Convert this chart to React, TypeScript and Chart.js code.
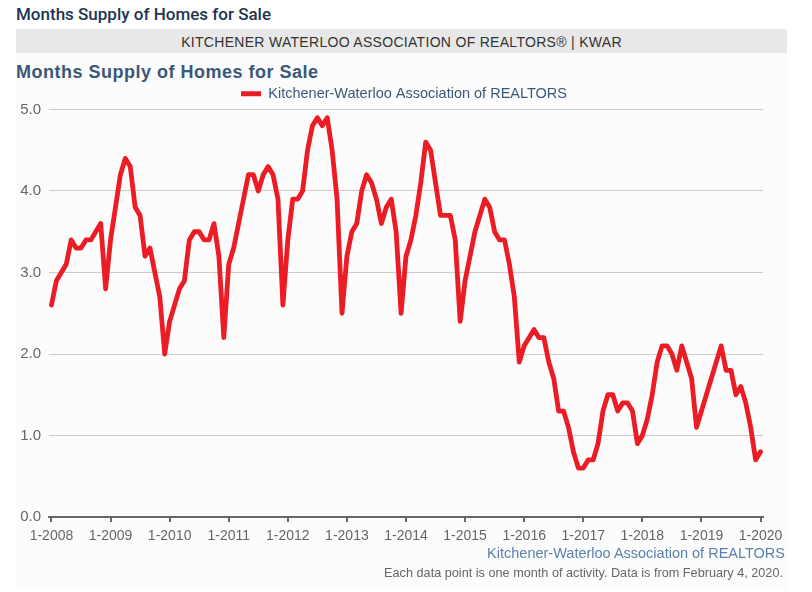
import React, { useEffect, useRef } from "react";
import { Chart, registerables } from "chart.js";

Chart.register(...registerables);

// Months supply of homes for sale, one value per month (Jan..Dec)
const supply2008 = [2.6, 2.9, 3.0, 3.1, 3.4, 3.3, 3.3, 3.4, 3.4, 3.5, 3.6, 2.8];
const supply2009 = [3.4, 3.8, 4.2, 4.4, 4.3, 3.8, 3.7, 3.2, 3.3, 3.0, 2.7, 2.0];
const supply2010 = [2.4, 2.6, 2.8, 2.9, 3.4, 3.5, 3.5, 3.4, 3.4, 3.6, 3.2, 2.2];
const supply2011 = [3.1, 3.3, 3.6, 3.9, 4.2, 4.2, 4.0, 4.2, 4.3, 4.2, 3.9, 2.6];
const supply2012 = [3.4, 3.9, 3.9, 4.0, 4.5, 4.8, 4.9, 4.8, 4.9, 4.5, 3.9, 2.5];
const supply2013 = [3.2, 3.5, 3.6, 4.0, 4.2, 4.1, 3.9, 3.6, 3.8, 3.9, 3.5, 2.5];
const supply2014 = [3.2, 3.4, 3.7, 4.1, 4.6, 4.5, 4.1, 3.7, 3.7, 3.7, 3.4, 2.4];
const supply2015 = [2.9, 3.2, 3.5, 3.7, 3.9, 3.8, 3.5, 3.4, 3.4, 3.1, 2.7, 1.9];
const supply2016 = [2.1, 2.2, 2.3, 2.2, 2.2, 1.9, 1.7, 1.3, 1.3, 1.1, 0.8, 0.6];
const supply2017 = [0.6, 0.7, 0.7, 0.9, 1.3, 1.5, 1.5, 1.3, 1.4, 1.4, 1.3, 0.9];
const supply2018 = [1.0, 1.2, 1.5, 1.9, 2.1, 2.1, 2.0, 1.8, 2.1, 1.9, 1.7, 1.1];
const supply2019 = [1.3, 1.5, 1.7, 1.9, 2.1, 1.8, 1.8, 1.5, 1.6, 1.4, 1.1, 0.7];
const supply2020 = [0.8];

const xTickLabels = [
  "1-2008", "1-2009", "1-2010", "1-2011", "1-2012", "1-2013", "1-2014",
  "1-2015", "1-2016", "1-2017", "1-2018", "1-2019", "1-2020",
];
const seriesName = "Kitchener-Waterloo Association of REALTORS";
const pageTitle = "Months Supply of Homes for Sale";
const bandText = "KITCHENER WATERLOO ASSOCIATION OF REALTORS® | KWAR";
const chartTitle = "Months Supply of Homes for Sale";
const sourceText = "Kitchener-Waterloo Association of REALTORS";
const footerText = "Each data point is one month of activity. Data is from February 4, 2020.";

const SANS = "'Liberation Sans', Arial, Helvetica, sans-serif";

// centre the legend over the plot area instead of the whole canvas
const legendOverPlot = {
  id: "legendOverPlot",
  afterLayout(chart: any) {
    const lg = chart.legend;
    if (lg) {
      lg.left = chart.chartArea.left - 4;
      lg.right = chart.chartArea.right;
      lg.top += 1.5;
    }
  },
};

export default function App() {
  const canvasRef = useRef<HTMLCanvasElement>(null);

  useEffect(() => {
    const values = [
      ...supply2008, ...supply2009, ...supply2010, ...supply2011, ...supply2012,
      ...supply2013, ...supply2014, ...supply2015, ...supply2016, ...supply2017,
      ...supply2018, ...supply2019, ...supply2020,
    ];
    const points = values.map((v, i) => ({ x: i, y: v }));
    const chart = new Chart(canvasRef.current!, {
      type: "line",
      data: {
        datasets: [
          {
            label: seriesName,
            data: points,
            borderColor: "#ec1c24",
            backgroundColor: "#ec1c24",
            borderWidth: 4.8,
            pointRadius: 0,
            pointHoverRadius: 0,
            tension: 0,
            fill: false,
            borderJoinStyle: "round",
            borderCapStyle: "round",
          },
        ],
      },
      options: {
        responsive: false,
        maintainAspectRatio: false,
        animation: false,
        layout: { padding: { left: 0, right: 49, top: 0, bottom: 0 } },
        plugins: {
          legend: {
            display: true,
            position: "top",
            labels: {
              boxWidth: 20,
              boxHeight: 5,
              padding: 6,
              color: "#3b5878",
              font: { family: SANS, size: 14.5 },
              generateLabels: (c: any) =>
                Chart.defaults.plugins.legend.labels
                  .generateLabels(c)
                  .map((item: any) => ({ ...item, lineWidth: 0, strokeStyle: "rgba(0,0,0,0)" })),
            },
          },
          tooltip: { enabled: false },
          title: { display: false },
        },
        scales: {
          x: {
            type: "linear",
            min: -0.5,
            max: 144.5,
            afterBuildTicks: (scale: any) => {
              scale.ticks = xTickLabels.map((_, k) => ({ value: k * 12 }));
            },
            afterFit: (scale: any) => {
              scale.height = 35;
            },
            ticks: {
              autoSkip: false,
              maxRotation: 0,
              padding: 6,
              color: "#666666",
              font: { family: SANS, size: 14 },
              callback: (v: any) => xTickLabels[Math.round(Number(v) / 12)] ?? "",
            },
            grid: {
              display: true,
              drawOnChartArea: false,
              drawTicks: true,
              tickLength: 5,
              color: "#666666",
              lineWidth: 2,
            },
            border: { display: true, color: "#666666", width: 2 },
          },
          y: {
            type: "linear",
            min: 0,
            max: 5,
            afterFit: (scale: any) => {
              scale.width = 49;
            },
            ticks: {
              stepSize: 1,
              padding: 8,
              color: "#666666",
              font: { family: SANS, size: 15 },
              callback: (v: any) => Number(v).toFixed(1),
            },
            grid: { color: "#cccccc", lineWidth: 1, drawTicks: false },
            border: { display: false },
          },
        },
      },
      plugins: [legendOverPlot],
    } as any);
    return () => chart.destroy();
  }, []);

  return (
    <div
      style={{
        position: "absolute",
        left: 0,
        top: 0,
        width: 812,
        height: 592,
        background: "#ffffff",
        overflow: "hidden",
        fontFamily: SANS,
      }}
    >
      <div
        style={{
          position: "absolute",
          left: 16,
          top: 6,
          fontFamily: "Roboto, 'Liberation Sans', Arial, sans-serif",
          fontWeight: 500,
          fontSize: 17,
          lineHeight: "17px",
          color: "#1d3553",
          whiteSpace: "nowrap",
        }}
      >
        {pageTitle}
      </div>
      <div
        style={{
          position: "absolute",
          left: 16,
          top: 29,
          width: 771,
          height: 24,
          background: "#e8e8e8",
          color: "#333333",
          fontSize: 14,
          letterSpacing: 0.3,
          lineHeight: "24px",
          paddingTop: 1,
          boxSizing: "border-box",
          textAlign: "center",
          whiteSpace: "nowrap",
        }}
      >
        {bandText}
      </div>
      <div
        style={{
          position: "absolute",
          left: 16,
          top: 53,
          width: 771,
          height: 537,
          background: "#fcfcfc",
        }}
      />
      <div
        style={{
          position: "absolute",
          left: 16,
          top: 62.5,
          fontWeight: 700,
          fontSize: 18,
          lineHeight: "18px",
          letterSpacing: 0.5,
          color: "#3a5878",
          whiteSpace: "nowrap",
        }}
      >
        {chartTitle}
      </div>
      <canvas
        ref={canvasRef}
        width={812}
        height={473}
        style={{ position: "absolute", left: 0, top: 79, width: 812, height: 473 }}
      />
      <div
        style={{
          position: "absolute",
          right: 27,
          top: 544.5,
          fontSize: 14.5,
          lineHeight: "16px",
          color: "#5b80ad",
          whiteSpace: "nowrap",
        }}
      >
        {sourceText}
      </div>
      <div
        style={{
          position: "absolute",
          right: 29,
          top: 566,
          fontSize: 12.7,
          lineHeight: "14px",
          color: "#666666",
          whiteSpace: "nowrap",
        }}
      >
        {footerText}
      </div>
    </div>
  );
}
